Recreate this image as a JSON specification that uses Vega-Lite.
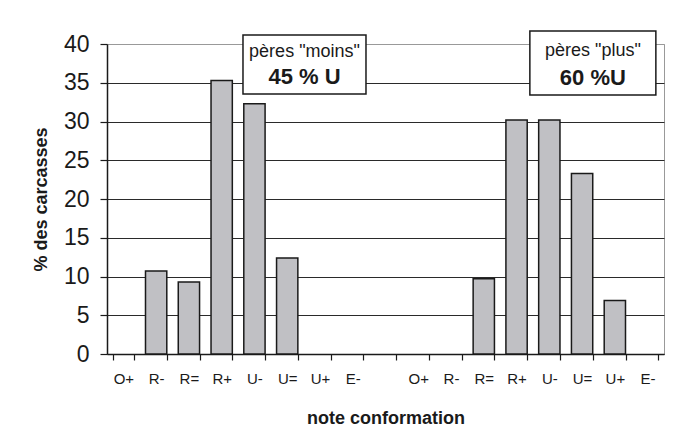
{
  "$schema": "https://vega.github.io/schema/vega-lite/v6.json",
  "width": 557,
  "height": 310,
  "autosize": {"type": "none"},
  "padding": {"left": 107, "top": 44, "right": 12, "bottom": 94},
  "background": "white",
  "config": {
    "font": "Liberation Sans",
    "view": {"stroke": "#999999", "strokeWidth": 1},
    "axis": {
      "labelFont": "Liberation Sans",
      "titleFont": "Liberation Sans",
      "labelColor": "#1a1a1a",
      "titleColor": "#1a1a1a",
      "domainColor": "#1a1a1a",
      "tickColor": "#1a1a1a",
      "titleFontSize": 18,
      "titleFontWeight": "bold",
      "domainWidth": 1.5,
      "tickWidth": 1.2
    },
    "axisX": {
      "titlePadding": 23,
      "labelAngle": 0,
      "labelFontSize": 15,
      "labelPadding": 11,
      "tickBand": "extent",
      "tickSize": 6,
      "grid": false
    },
    "axisY": {
      "titlePadding": 13,
      "labelFontSize": 23,
      "labelPadding": 11,
      "tickSize": 7,
      "grid": true,
      "gridWidth": 1
    }
  },
  "encoding": {
    "x": {
      "field": "key",
      "type": "nominal",
      "scale": {
        "domain": ["m_O+", "m_R-", "m_R=", "m_R+", "m_U-", "m_U=", "m_U+", "m_E-", "g_", "p_O+", "p_R-", "p_R=", "p_R+", "p_U-", "p_U=", "p_U+", "p_E-"],
        "paddingInner": 0.35,
        "paddingOuter": 0.175
      },
      "axis": {
        "title": "note conformation",
        "labelExpr": "split(datum.label, '_')[1]"
      }
    },
    "y": {
      "field": "val",
      "type": "quantitative",
      "scale": {"domain": [0, 40], "nice": false},
      "axis": {
        "title": "% des carcasses",
        "values": [0, 5, 10, 15, 20, 25, 30, 35, 40],
        "labelOverlap": false,
        "gridColor": {"condition": {"test": "datum.value === 40", "value": "#999999"}, "value": "#2a2a2a"}
      }
    }
  },
  "layer": [
    {
      "data": {
        "values": [
          {"key": "m_R-", "val": 10.7},
          {"key": "m_R=", "val": 9.3},
          {"key": "m_R+", "val": 35.3},
          {"key": "m_U-", "val": 32.3},
          {"key": "m_U=", "val": 12.4},
          {"key": "p_R=", "val": 9.7},
          {"key": "p_R+", "val": 30.2},
          {"key": "p_U-", "val": 30.2},
          {"key": "p_U=", "val": 23.3},
          {"key": "p_U+", "val": 6.9}
        ]
      },
      "mark": {"type": "bar", "fill": "#c0c0c4", "stroke": "#1a1a1a", "strokeWidth": 1.5}
    },
    {
      "data": {"values": [{"key": "m_U=", "val": 37.35, "l1": "pères \"moins\"", "l2": "45 % U"}]},
      "layer": [
        {"mark": {"type": "point", "shape": "M-0.719,-0.48H1.281V0.48H-0.719Z", "size": 15129, "filled": true, "fill": "white", "stroke": "#1a1a1a", "strokeWidth": 1.5, "opacity": 1}},
        {"mark": {"type": "text", "fontSize": 18, "dx": 17.3, "dy": -12.5, "baseline": "middle", "color": "#1a1a1a"}, "encoding": {"text": {"field": "l1"}}},
        {"mark": {"type": "text", "fontSize": 22, "fontWeight": "bold", "dx": 17.3, "dy": 12.5, "baseline": "middle", "color": "#1a1a1a"}, "encoding": {"text": {"field": "l2"}}}
      ]
    },
    {
      "data": {"values": [{"key": "p_U=", "val": 37.55, "l1": "pères \"plus\"", "l2": "60 %U"}]},
      "layer": [
        {"mark": {"type": "point", "shape": "M-0.829,-0.508H1.171V0.508H-0.829Z", "size": 15876, "filled": true, "fill": "white", "stroke": "#1a1a1a", "strokeWidth": 1.5, "opacity": 1}},
        {"mark": {"type": "text", "fontSize": 18, "dx": 10.8, "dy": -12, "baseline": "middle", "color": "#1a1a1a"}, "encoding": {"text": {"field": "l1"}}},
        {"mark": {"type": "text", "fontSize": 22, "fontWeight": "bold", "dx": 10.8, "dy": 15, "baseline": "middle", "color": "#1a1a1a"}, "encoding": {"text": {"field": "l2"}}}
      ]
    }
  ]
}
